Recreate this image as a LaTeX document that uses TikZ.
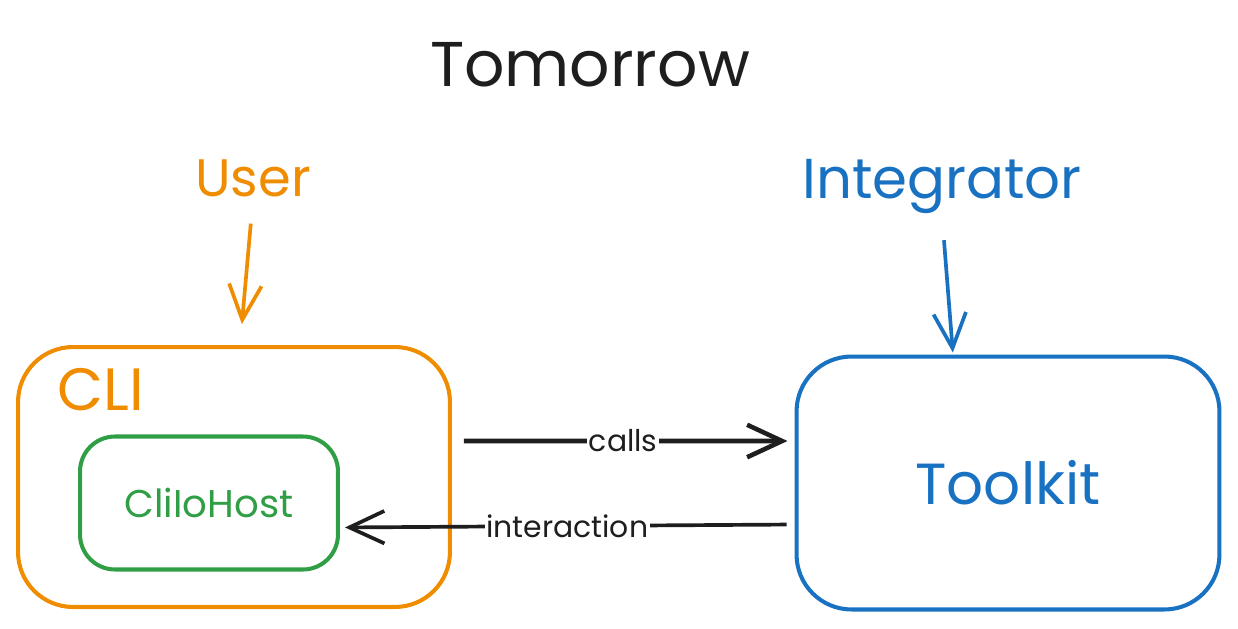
\documentclass[tikz,border=0pt]{standalone}
\usepackage{fontspec}
\setmainfont{Poppins}
\usepackage{tikz}
\usetikzlibrary{arrows.meta,positioning}
\definecolor{cli-orange}{HTML}{F08C00}
\definecolor{host-green}{HTML}{2F9E44}
\definecolor{kit-blue}{HTML}{1971C2}
\definecolor{ink}{HTML}{1E1E1E}

\begin{document}
\begin{tikzpicture}[
    x=0.02cm, y=-0.02cm,
    box/.style={rectangle, draw, line width=2.3pt, rounded corners=1.1cm,
                inner sep=0pt, align=center},
    tag/.style={inner sep=1pt, font=\fontsize{30}{36}\selectfont},
    arrow/.style={-{Straight Barb[length=7mm, width=6.5mm]}, line width=2.1pt},
    edgetext/.style={fill=white, inner sep=1pt, text=ink, font=\fontsize{17}{20}\selectfont}
]
  \useasboundingbox (0,0) rectangle (1238,629);

  % Title
  \node[tag, text=ink, font=\fontsize{36}{42}\selectfont] (title) at (590,65) {Tomorrow};

  % Actors
  \node[tag, text=cli-orange] (user) at (253,178) {User};
  \node[tag, text=kit-blue, font=\fontsize{32}{38}\selectfont] (integ) at (942,186) {Integrator};

  % CLI with its host
  \node[box, draw=cli-orange, minimum width=8.64cm, minimum height=5.2cm] (cli) at (234,477) {};
  \node[tag, text=cli-orange, font=\fontsize{34}{40}\selectfont] (clitag) at (101,390) {CLI};
  \node[box, draw=host-green, rounded corners=0.7cm, minimum width=5.16cm, minimum height=2.66cm,
        text=host-green, font=\fontsize{22}{26}\selectfont] (host) at (209,503) {CliIoHost};

  % Toolkit
  \node[box, draw=kit-blue, minimum width=8.46cm, minimum height=5.06cm,
        text=kit-blue, font=\fontsize{33}{40}\selectfont] (kit) at (1008,483) {Toolkit};

  % Arrows
  \draw[arrow, draw=cli-orange, shorten <=0.5cm, shorten >=0.42cm] (user.south) -- ([xshift=0.12cm]cli.north);
  \draw[arrow, draw=kit-blue, shorten <=0.5cm, shorten >=0.04cm] (integ.south) -- ([xshift=-1.1cm]kit.north);
  \draw[arrow, draw=ink, line width=2.6pt, shorten <=0.24cm, shorten >=0.14cm] ([yshift=0.72cm]cli.east) -- ([yshift=0.84cm]kit.west)
    node[edgetext, midway] {calls};
  \draw[arrow, draw=ink, shorten <=0.16cm, shorten >=0.1cm] ([yshift=-0.83cm]kit.west) -- ([yshift=-0.49cm]host.east)
    node[edgetext, midway] {interaction};

\end{tikzpicture}
\end{document}
